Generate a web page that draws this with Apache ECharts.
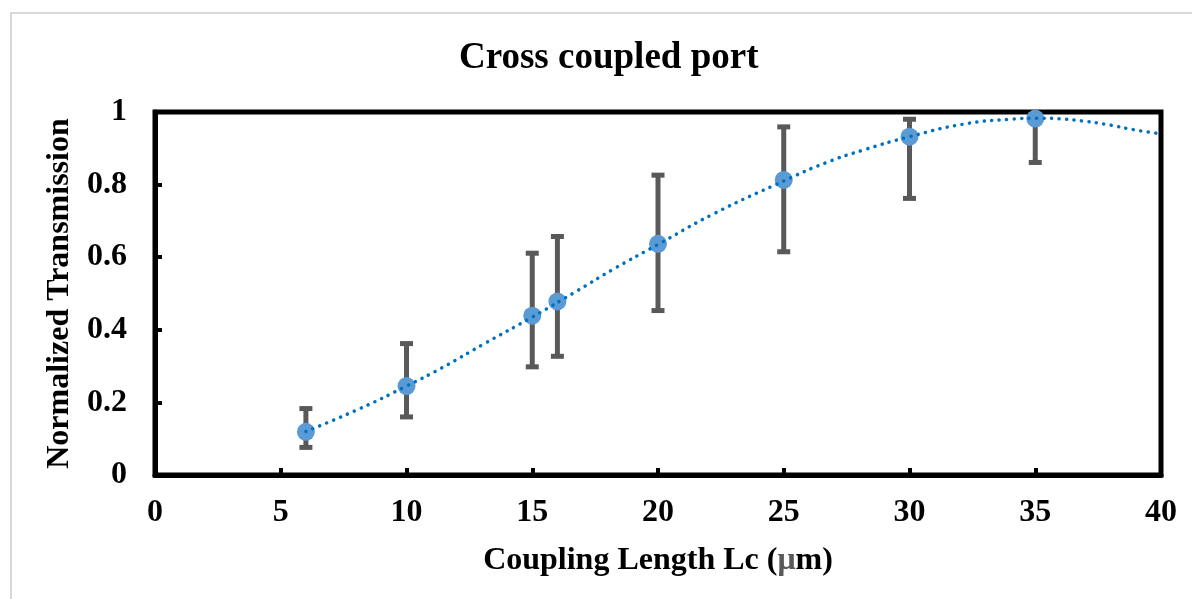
<!DOCTYPE html>
<html>
<head>
<meta charset="utf-8">
<script src="https://cdn.jsdelivr.net/npm/echarts@6/dist/echarts.min.js"></script>
<style>
html,body{margin:0;padding:0;background:#fff;}
#chart{width:1192px;height:599px;}
</style>
</head>
<body>
<div id="chart"></div>
<script>
// Measured points: coupling length (µm) and normalized transmission
const lengths = [6, 10, 15, 16, 20, 25, 30, 35];
const transmission = [0.119, 0.245, 0.439, 0.478, 0.637, 0.813, 0.932, 0.982];
const errLow = [0.076, 0.160, 0.298, 0.327, 0.453, 0.615, 0.762, 0.861];
const errHigh = [0.183, 0.362, 0.611, 0.657, 0.826, 0.959, 0.980, 0.982];

// Trend line
const trendX = [6, 8.15, 10, 11.4, 13.1, 15, 16.8, 18.25, 20, 22.2, 25, 26.7, 28.2, 30, 32.1, 34, 35.2, 36, 36.9, 37.8, 39.1, 40];
const trendY = [0.12, 0.183, 0.245, 0.295, 0.362, 0.435, 0.508, 0.568, 0.635, 0.719, 0.81, 0.861, 0.896, 0.932, 0.966, 0.98, 0.983, 0.981, 0.975, 0.966, 0.949, 0.94];

const xTicks = [0, 5, 10, 15, 20, 25, 30, 35, 40];
const yTicks = [0, 0.2, 0.4, 0.6, 0.8, 1];

const FONT = '"Liberation Serif", "Times New Roman", serif';

const pointData = lengths.map((x, i) => [x, transmission[i]]);
const errData = lengths.map((x, i) => [x, errLow[i], errHigh[i]]);
const trendData = trendX.map((x, i) => [x, trendY[i]]);

const chart = echarts.init(document.getElementById('chart'));
chart.setOption({
  backgroundColor: '#fff',
  animation: false,
  title: {
    text: 'Cross coupled port',
    left: 454,
    top: 35,
    textStyle: { fontFamily: FONT, fontWeight: 'bold', fontSize: 37, color: '#000' }
  },
  graphic: [{
    type: 'rect',
    shape: { x: 11, y: 13, width: 1400, height: 800 },
    style: { fill: 'none', stroke: '#d9d9d9', lineWidth: 2 },
    silent: true
  }],
  grid: {
    left: 155, right: 31, top: 112, bottom: 124,
    show: true, borderColor: '#000', borderWidth: 5, backgroundColor: 'transparent'
  },
  xAxis: {
    type: 'value', min: xTicks[0], max: xTicks[xTicks.length - 1], interval: 5,
    name: 'Coupling Length Lc ({g|μ}m)',
    nameLocation: 'middle', nameGap: 70,
    nameTextStyle: {
      fontFamily: FONT, fontWeight: 'bold', fontSize: 32, color: '#000',
      rich: { g: { fontFamily: FONT, fontWeight: 'bold', fontSize: 32, color: '#595959' } }
    },
    axisLine: { show: true, lineStyle: { color: '#000', width: 5 } },
    axisTick: { show: true, inside: true, length: 7, lineStyle: { color: '#000', width: 4 } },
    axisLabel: { fontFamily: FONT, fontWeight: 'bold', fontSize: 32, color: '#000', margin: 22 },
    splitLine: { show: false }
  },
  yAxis: {
    type: 'value', min: yTicks[0], max: yTicks[yTicks.length - 1], interval: 0.2,
    name: 'Normalized Transmission',
    nameLocation: 'middle', nameGap: 73,
    nameTextStyle: { fontFamily: FONT, fontWeight: 'bold', fontSize: 32, color: '#000' },
    axisLine: { show: true, lineStyle: { color: '#000', width: 5 } },
    axisTick: { show: true, inside: true, length: 7, lineStyle: { color: '#000', width: 4 } },
    axisLabel: { fontFamily: FONT, fontWeight: 'bold', fontSize: 32, color: '#000', margin: 28 },
    splitLine: { show: false }
  },
  series: [
    {
      type: 'custom',
      z: 2,
      clip: false,
      data: errData,
      renderItem: function (params, api) {
        const x = api.value(0);
        const lo = api.coord([x, api.value(1)]);
        const hi = api.coord([x, api.value(2)]);
        const hw = 6.5;
        const st = { stroke: '#595959', lineWidth: 5 };
        return {
          type: 'group',
          children: [
            { type: 'line', shape: { x1: lo[0], y1: lo[1], x2: hi[0], y2: hi[1] }, style: st },
            { type: 'line', shape: { x1: lo[0] - hw, y1: lo[1], x2: lo[0] + hw, y2: lo[1] }, style: st },
            { type: 'line', shape: { x1: hi[0] - hw, y1: hi[1], x2: hi[0] + hw, y2: hi[1] }, style: st }
          ]
        };
      }
    },
    {
      type: 'scatter',
      z: 3,
      clip: false,
      data: pointData,
      symbol: 'circle',
      symbolSize: 18,
      itemStyle: { color: '#5B9BD5', opacity: 1 }
    },
    {
      type: 'line',
      z: 4,
      clip: false,
      data: trendData,
      smooth: true,
      showSymbol: false,
      symbol: 'none',
      lineStyle: { color: '#0070C0', width: 3.5, type: [0.1, 7.4], cap: 'round' }
    }
  ]
});
</script>
</body>
</html>
